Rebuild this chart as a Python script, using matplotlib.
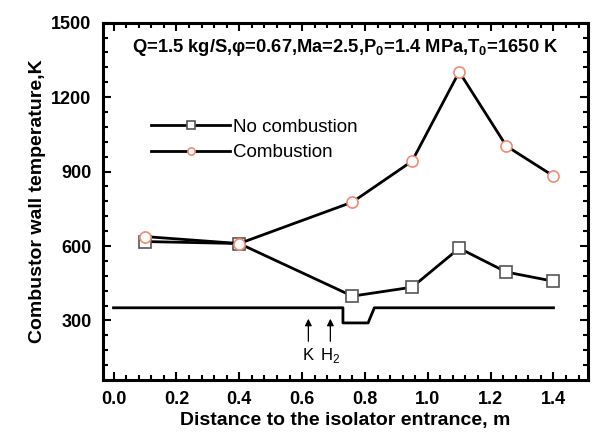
import matplotlib
matplotlib.use('Agg')
import matplotlib.pyplot as plt
from matplotlib.ticker import MultipleLocator

plt.rcParams['font.family'] = ['Liberation Sans', 'DejaVu Sans']
plt.rcParams['mathtext.fontset'] = 'custom'
plt.rcParams['mathtext.rm'] = 'Liberation Sans'
plt.rcParams['mathtext.bf'] = 'Liberation Sans:bold'

# Datos
distancia = [0.1, 0.4, 0.76, 0.95, 1.1, 1.25, 1.4]
t_sin_comb = [618, 610, 398, 434, 591, 495, 458]
t_comb = [638, 610, 777, 942, 1302, 1003, 882]

# Perfil de la pared del combustor (esquema)
perfil_x = [0.0, 0.73, 0.73, 0.81, 0.83, 1.4]
perfil_y = [351, 351, 290, 290, 351, 351]

# Posiciones de inyeccion
x_k = 0.62
x_h2 = 0.69

fig = plt.figure(figsize=(5.94, 4.40), dpi=100)
ax = fig.add_axes([0.1726, 0.1364, 0.8174, 0.8120])

ax.plot(distancia, t_sin_comb, marker='s', linestyle='-', color='black', linewidth=2,
        markersize=8, markerfacecolor='white', markeredgecolor='#555555',
        markeredgewidth=1.2, label='No combustion')
ax.plot(distancia, t_comb, marker='o', linestyle='-', color='black', linewidth=2,
        markersize=8, markerfacecolor='white', markeredgecolor='#f28b72',
        markeredgewidth=1.2, label='Combustion')

ax.plot(perfil_x, perfil_y, color='black', linewidth=2)

for xi, txt in [(x_k, 'K'), (x_h2, 'H$_\\mathregular{2}$')]:
    ax.annotate('', xy=(xi, 318), xytext=(xi, 205),
                arrowprops=dict(arrowstyle='-|>', color='black', lw=0.9,
                                mutation_scale=10))
    ax.text(xi, 160, txt, ha='center', va='center', fontsize=12)

ax.text(0.5, 0.93,
        'Q=1.5 kg/S,\u03c6=0.67,Ma=2.5,P$_\\mathbf{0}$=1.4 MPa,T$_\\mathbf{0}$=1650 K',
        transform=ax.transAxes, ha='center', va='center', fontsize=13.2,
        fontweight='bold')

ax.set_xlim(-0.035, 1.51)
ax.set_ylim(60, 1500)
ax.xaxis.set_major_locator(MultipleLocator(0.2))
ax.xaxis.set_minor_locator(MultipleLocator(0.04))
ax.yaxis.set_major_locator(MultipleLocator(300))
ax.yaxis.set_minor_locator(MultipleLocator(60))
ax.set_yticks([300, 600, 900, 1200, 1500])

ax.tick_params(which='both', direction='in', top=True, right=True, width=1.5)
ax.tick_params(which='major', length=6, labelsize=13, pad=8)
ax.tick_params(which='minor', length=3.5)
for lbl in ax.get_xticklabels() + ax.get_yticklabels():
    lbl.set_fontweight('bold')

for s in ax.spines.values():
    s.set_linewidth(2.2)

ax.set_xlabel('Distance to the isolator entrance, m', fontsize=14, fontweight='bold', labelpad=3)
ax.set_ylabel('Combustor wall temperature,K', fontsize=14, fontweight='bold', labelpad=4)

ax.legend(loc='upper left', bbox_to_anchor=(0.085, 0.752), frameon=False, fontsize=13.5,
          handlelength=4.2, handletextpad=0.15, borderaxespad=0, labelspacing=0.45,
          markerscale=0.65)

fig.savefig('out.png', dpi=100)
